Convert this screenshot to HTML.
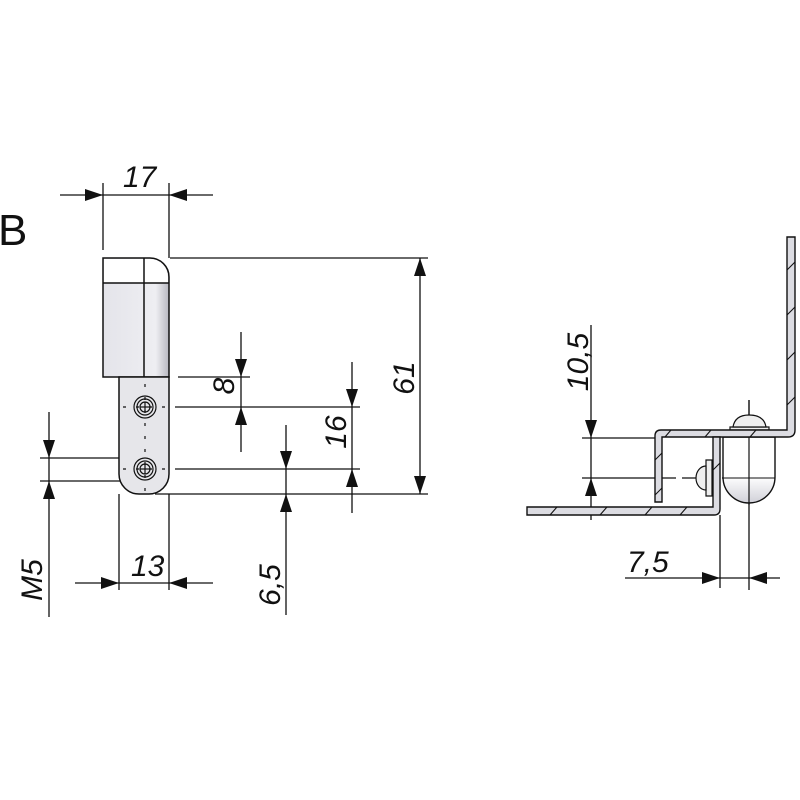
<!DOCTYPE html>
<html><head><style>html,body{margin:0;padding:0;background:#fff}svg{display:block}
text{font-family:"Liberation Sans",sans-serif;font-style:italic;font-size:30px;fill:#111}</style></head>
<body>
<svg width="800" height="800" viewBox="0 0 800 800" xmlns="http://www.w3.org/2000/svg">
<defs>
<linearGradient id="g1" x1="0" x2="1"><stop offset="0" stop-color="#e4e4ea"/><stop offset="0.8" stop-color="#eeeef2"/><stop offset="1" stop-color="#b8b8c0"/></linearGradient>
<linearGradient id="g2" x1="0" y1="0" x2="0" y2="1"><stop offset="0" stop-color="#fff"/><stop offset="0.6" stop-color="#fff"/><stop offset="1" stop-color="#d0d0d8"/></linearGradient>
</defs>
<rect width="800" height="800" fill="#fff"/>
<text x="-2" y="245" style="font-style:normal;font-size:44px">B</text>

<g stroke="#111" stroke-width="1.3" fill="none">
<!-- 17 -->
<line x1="60" y1="195" x2="213" y2="195"/>
<line x1="103" y1="183" x2="103" y2="250"/>
<line x1="169" y1="183" x2="169" y2="258"/>
<!-- 61 -->
<line x1="170" y1="258" x2="428" y2="258"/>
<line x1="155" y1="494" x2="428" y2="494"/>
<line x1="420" y1="258" x2="420" y2="494"/>
<!-- 8 -->
<line x1="178" y1="377" x2="250" y2="377"/>
<line x1="241" y1="332" x2="241" y2="452"/>
<line x1="175" y1="407" x2="360" y2="407"/>
<!-- 16 -->
<line x1="352" y1="362" x2="352" y2="513"/>
<line x1="175" y1="469" x2="360" y2="469"/>
<!-- 6,5 -->
<line x1="286" y1="425" x2="286" y2="615"/>
<!-- M5 -->
<line x1="40" y1="458" x2="133" y2="458"/>
<line x1="40" y1="481" x2="128" y2="481"/>
<line x1="49" y1="412" x2="49" y2="617"/>
<!-- 13 -->
<line x1="75" y1="583" x2="213" y2="583"/>
<line x1="119" y1="494" x2="119" y2="590"/>
<line x1="169" y1="494" x2="169" y2="590"/>
</g>
<g fill="#111">
<polygon points="103,195 85,189 85,201"/><polygon points="169,195 187,189 187,201"/>
<polygon points="420,258 414,276 426,276"/><polygon points="420,494 414,476 426,476"/>
<polygon points="241,377 235,359 247,359"/><polygon points="241,407 235,425 247,425"/>
<polygon points="352,407 346,389 358,389"/><polygon points="352,469 346,487 358,487"/>
<polygon points="286,469 280,451 292,451"/><polygon points="286,494 280,512 292,512"/>
<polygon points="49,458 43,440 55,440"/><polygon points="49,481 43,499 55,499"/>
<polygon points="119,583 101,577 101,589"/><polygon points="169,583 187,577 187,589"/>
</g>

<!-- body -->
<path d="M103,258 L150,258 A19,19 0 0 1 169,277 L169,377 L103,377 Z" fill="url(#g1)" stroke="#111" stroke-width="1.5"/>
<path d="M104,259 L150,259 A18,18 0 0 1 168,277 L168,283 L104,283 Z" fill="#fff"/>
<line x1="103" y1="283" x2="169" y2="283" stroke="#111" stroke-width="1.5"/>
<line x1="144" y1="258" x2="144" y2="377" stroke="#111" stroke-width="1.5"/>
<path d="M119,377 L169,377 L169,474 A20,20 0 0 1 149,494 L139,494 A20,20 0 0 1 119,474 Z" fill="#e6e6ea" stroke="#111" stroke-width="1.5"/>
<g stroke="#111" fill="none" stroke-width="1.2">
<circle cx="145" cy="407" r="11"/><circle cx="145" cy="407" r="8"/><circle cx="145" cy="407" r="5"/>
<line x1="140" y1="407" x2="150" y2="407"/><line x1="145" y1="402" x2="145" y2="412"/>
<circle cx="145" cy="469" r="11"/><circle cx="145" cy="469" r="8"/><circle cx="145" cy="469" r="5"/>
<line x1="140" y1="469" x2="150" y2="469"/><line x1="145" y1="464" x2="145" y2="474"/>
<line x1="123" y1="407" x2="166" y2="407" stroke-dasharray="3,10"/>
<line x1="145" y1="384" x2="145" y2="492" stroke-dasharray="3,10"/>
<line x1="123" y1="469" x2="166" y2="469" stroke-dasharray="3,10"/>
</g>

<text x="123" y="187">17</text>
<text x="131" y="576">13</text>
<text transform="translate(414,378) rotate(-90)" text-anchor="middle">61</text>
<text transform="translate(234,386) rotate(-90)" text-anchor="middle">8</text>
<text transform="translate(346,432) rotate(-90)" text-anchor="middle">16</text>
<text transform="translate(280,585) rotate(-90)" text-anchor="middle">6,5</text>
<text transform="translate(42,580) rotate(-90)" text-anchor="middle">M5</text>
<text transform="translate(588,362) rotate(-90)" text-anchor="middle">10,5</text>
<text x="627" y="572">7,5</text>

<!-- right view -->
<g stroke="#111" stroke-width="1.3" fill="none">
<line x1="582" y1="438" x2="655" y2="438"/>
<line x1="582" y1="478" x2="655" y2="478"/>
<line x1="662" y1="478" x2="733" y2="478" stroke-dasharray="14,6"/>
<line x1="591" y1="325" x2="591" y2="520"/>
<line x1="749" y1="400" x2="749" y2="590"/>
<line x1="720" y1="515" x2="720" y2="588"/>
<line x1="625" y1="578" x2="780" y2="578"/>
</g>
<g fill="#111">
<polygon points="591,438 585,420 597,420"/><polygon points="591,478 585,496 597,496"/>
<polygon points="720,578 702,572 702,584"/><polygon points="749,578 767,572 767,584"/>
</g>
<!-- cap -->
<path d="M723,437 L775,437 L775,477 A26,26 0 0 1 723,477 Z" fill="url(#g2)" stroke="#111" stroke-width="1.4"/>
<line x1="723" y1="478" x2="775" y2="478" stroke="#111" stroke-width="1"/>
<line x1="749" y1="400" x2="749" y2="505" stroke="#111" stroke-width="1.2"/>
<!-- small screw -->
<path d="M706,460 L712,460 L712,496 L706,496 Z" fill="#eee" stroke="#111" stroke-width="1.2"/>
<path d="M706,466 A10,12 0 0 0 706,490 Z" fill="#eee" stroke="#111" stroke-width="1.2"/>
<!-- top screw -->
<path d="M730,427 L769,427 L769,430 L730,430 Z" fill="#eee" stroke="#111" stroke-width="1.2"/>
<path d="M733,427 Q735,415 749,415 Q764,415 766,427 Z" fill="#eee" stroke="#111" stroke-width="1.2"/>
<!-- plates -->
<path d="M787,237 L795,237 L795,430 Q795,437 788,437 L662,437 L662,502 L655,502 L655,436 Q655,430 661,430 L787,430 Z" fill="#dcdce2" stroke="#111" stroke-width="1.4"/>
<path d="M527,507 L713,507 L713,437 L720,437 L720,509 Q720,515 714,515 L527,515 Z" fill="#dcdce2" stroke="#111" stroke-width="1.4"/>
<g stroke="#111" stroke-width="1.1">
<line x1="787" y1="270" x2="795" y2="262"/><line x1="787" y1="315" x2="795" y2="307"/><line x1="787" y1="360" x2="795" y2="352"/><line x1="787" y1="405" x2="795" y2="397"/>
<line x1="665" y1="437" x2="671" y2="430"/><line x1="705" y1="437" x2="711" y2="430"/><line x1="750" y1="437" x2="756" y2="430"/>
<line x1="655" y1="460" x2="662" y2="453"/><line x1="655" y1="495" x2="662" y2="488"/>
<line x1="713" y1="470" x2="720" y2="463"/>
<line x1="550" y1="515" x2="557" y2="507"/><line x1="600" y1="515" x2="607" y2="507"/><line x1="645" y1="515" x2="652" y2="507"/><line x1="680" y1="515" x2="687" y2="507"/>
</g>
</svg>
</body></html>
